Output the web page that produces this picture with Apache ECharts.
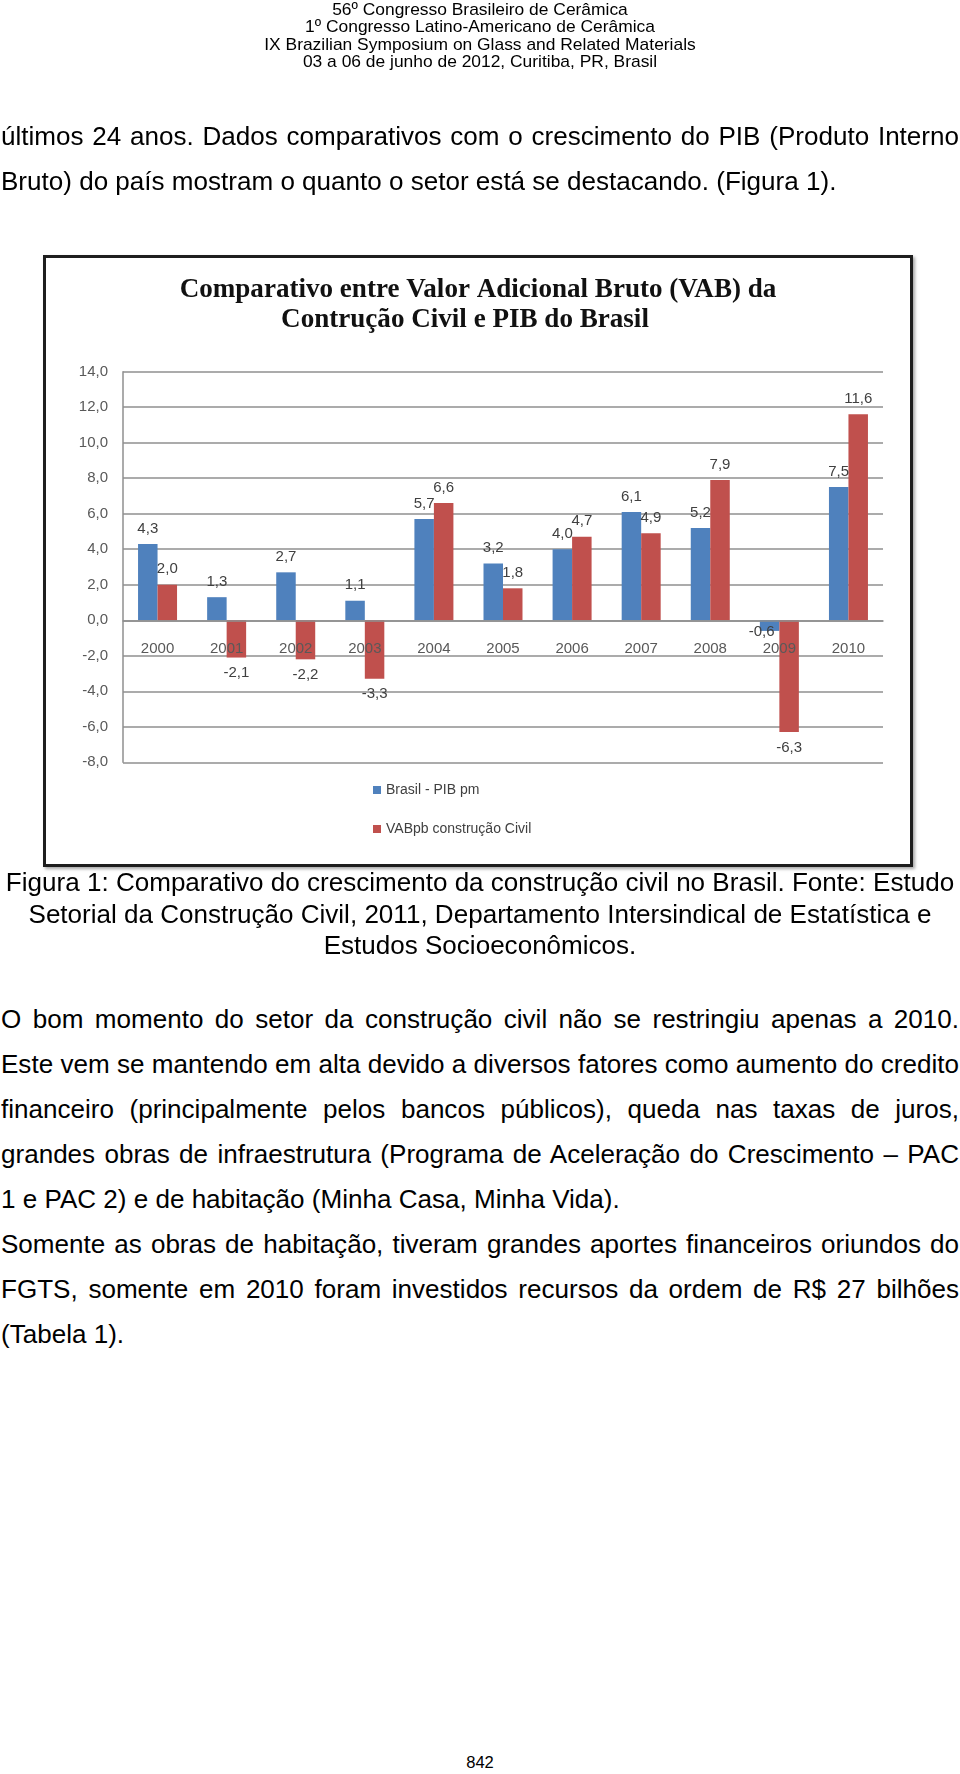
<!DOCTYPE html>
<html><head><meta charset="utf-8">
<script src="https://cdn.jsdelivr.net/npm/echarts@6/dist/echarts.min.js"></script>
<style>
html,body{margin:0;padding:0;background:#fff;}
body{width:960px;height:1774px;position:relative;overflow:hidden;font-family:"Liberation Sans",Arial,sans-serif;color:#000;}
.t{position:absolute;white-space:nowrap;}
.j{text-align:justify;text-align-last:justify;white-space:normal;}
#frame{position:absolute;left:43px;top:255px;width:870px;height:612px;box-sizing:border-box;border:3px solid #1e1e1e;box-shadow:2px 2px 3px rgba(0,0,0,.35);}
#chart{position:absolute;left:0;top:0;width:960px;height:900px;}
</style></head><body>
<div id="frame"></div>
<div id="chart"></div>
<div id="text"></div>
<script>
// ---------- data ----------
const years = ['2000','2001','2002','2003','2004','2005','2006','2007','2008','2009','2010'];
const pibBrasil = [4.3, 1.3, 2.7, 1.1, 5.7, 3.2, 4.0, 6.1, 5.2, -0.6, 7.5];
const vabConstrucao = [2.0, -2.1, -2.2, -3.3, 6.6, 1.8, 4.7, 4.9, 7.9, -6.3, 11.6];
const seriesNames = ['Brasil - PIB pm', 'VABpb construção Civil'];
const titleLines = ['Comparativo entre Valor Adicional Bruto (VAB) da', 'Contrução Civil e PIB do Brasil'];
const yMin = -8, yMax = 14, yStep = 2;

const headerLines = [
  '56º Congresso Brasileiro de Cerâmica',
  '1º Congresso Latino-Americano de Cerâmica',
  'IX Brazilian Symposium on Glass and Related Materials',
  '03 a 06 de junho de 2012, Curitiba, PR, Brasil'
];
const introLines = [
  'últimos 24 anos. Dados comparativos com o crescimento do PIB (Produto Interno',
  'Bruto) do país mostram o quanto o setor está se destacando.  (Figura 1).'
];
const captionLines = [
  'Figura 1: Comparativo do crescimento da construção civil no Brasil. Fonte: Estudo',
  'Setorial da Construção Civil, 2011, Departamento Intersindical de Estatística e',
  'Estudos Socioeconômicos.'
];
const paragraphLines = [
  'O bom momento do setor da construção civil não se restringiu apenas a 2010.',
  'Este vem se mantendo em alta devido a diversos fatores como aumento do credito',
  'financeiro (principalmente pelos bancos públicos), queda nas taxas de juros,',
  'grandes obras de infraestrutura (Programa de Aceleração do Crescimento – PAC',
  '1 e PAC 2) e de habitação (Minha Casa, Minha Vida).',
  'Somente as obras de habitação, tiveram grandes aportes financeiros oriundos do',
  'FGTS, somente em 2010 foram investidos recursos da ordem de R$ 27 bilhões',
  '(Tabela 1).'
];
const pageNumber = '842';

// ---------- page text layout ----------
const cv = document.createElement('canvas').getContext('2d');
function fit(text, fam, weight, target){ cv.font = weight + ' 100px ' + fam; return 100 * target / cv.measureText(text).width; }
const SANS = '"Liberation Sans", Arial, sans-serif';
const SERIF = '"Liberation Serif", "Times New Roman", serif';
const bodySize = fit(captionLines[0], SANS, 'normal', 949);
const headSize = fit(headerLines[2], SANS, 'normal', 432);
const titleSize = fit(titleLines[0], SERIF, 'bold', 597);

const host = document.getElementById('text');
function addLine(text, cy, size, mode){
  const d = document.createElement('div');
  d.className = 't' + (mode === 'justify' ? ' j' : '');
  d.textContent = text;
  const lh = Math.round(size * 1.2);
  d.style.fontSize = size + 'px';
  d.style.lineHeight = lh + 'px';
  d.style.top = (cy - lh / 2) + 'px';
  if (mode === 'center') { d.style.left = '0px'; d.style.width = '960px'; d.style.textAlign = 'center'; }
  else if (mode === 'justify') { d.style.left = '1px'; d.style.width = '958px'; }
  else { d.style.left = '1px'; }
  host.appendChild(d);
}
[9, 26, 44, 61].forEach((y, i) => addLine(headerLines[i], y, headSize, 'center'));
addLine(introLines[0], 136, bodySize, 'justify');
addLine(introLines[1], 181, bodySize, 'left');
[882, 914, 945].forEach((y, i) => addLine(captionLines[i], y, bodySize, 'center'));
const paraY = [1019, 1064, 1109, 1154, 1199, 1244, 1289, 1334];
const paraMode = ['justify','justify','justify','justify','left','justify','justify','left'];
paraY.forEach((y, i) => addLine(paragraphLines[i], y, bodySize, paraMode[i]));
addLine(pageNumber, 1763, headSize * 0.95, 'center');

// ---------- chart ----------
const fmt = v => v.toFixed(1).replace('.', ',');
function items(arr, special){
  return arr.map((v, i) => {
    const it = { value: v, label: { position: v < 0 ? 'bottom' : 'top' } };
    if (special && special[i]) Object.assign(it.label, special[i]);
    return it;
  });
}
const gridBox = { left: 123, top: 371.7, width: 760, height: 390.6 };
// move category axis up to the zero line
const zeroOffset = -gridBox.height * (0 - yMin) / (yMax - yMin);
const gridColor = '#8f8f8f';
const labelFont = { fontFamily: SANS, fontSize: 15, color: '#404040' };
const chart = echarts.init(document.getElementById('chart'), null, { renderer: 'canvas' });
const tlh = Math.round(titleSize * 1.2);
chart.setOption({
  backgroundColor: 'transparent',
  animation: false,
  title: [
    { text: titleLines[0], left: 478, top: 290 - tlh / 2, textAlign: 'center', padding: 0,
      textStyle: { fontFamily: SERIF, fontWeight: 'bold', fontSize: titleSize, lineHeight: tlh, color: '#111' } },
    { text: titleLines[1], left: 465, top: 320 - tlh / 2, textAlign: 'center', padding: 0,
      textStyle: { fontFamily: SERIF, fontWeight: 'bold', fontSize: titleSize, lineHeight: tlh, color: '#111' } }
  ],
  legend: {
    orient: 'vertical', left: 373, top: 783, itemWidth: 8, itemHeight: 8, itemGap: 25, padding: 0,
    icon: 'rect', data: seriesNames,
    textStyle: { fontFamily: SANS, fontSize: 14, color: '#404040' }
  },
  grid: Object.assign({ containLabel: false, outerBoundsMode: 'none' }, gridBox),
  xAxis: {
    type: 'category', data: years, offset: zeroOffset, z: 5,
    axisLine: { onZero: false, lineStyle: { color: gridColor, width: 1.5 } },
    axisTick: { show: false },
    axisLabel: { color: '#595959', fontFamily: SANS, fontSize: 15, margin: 21 },
    splitLine: { show: false }
  },
  yAxis: {
    type: 'value', min: yMin, max: yMax, interval: yStep,
    axisLine: { show: true, lineStyle: { color: gridColor, width: 1.5 } },
    axisTick: { show: false },
    axisLabel: { color: '#595959', fontFamily: SANS, fontSize: 15, margin: 15, formatter: fmt },
    splitLine: { show: true, lineStyle: { color: gridColor, width: 1.5 } }
  },
  series: [
    { name: seriesNames[0], type: 'bar', barWidth: 19.5, barGap: '0%',
      itemStyle: { color: '#4f81bd' },
      label: Object.assign({ show: true, distance: 8, formatter: p => fmt(p.value) }, labelFont),
      data: items(pibBrasil, { 9: { distance: -7, offset: [-8, 0] } }) },
    { name: seriesNames[1], type: 'bar', barWidth: 19.5, barGap: '0%',
      itemStyle: { color: '#c0504d' },
      label: Object.assign({ show: true, distance: 8, formatter: p => fmt(p.value) }, labelFont),
      data: items(vabConstrucao) }
  ]
});
</script>
</body></html>
